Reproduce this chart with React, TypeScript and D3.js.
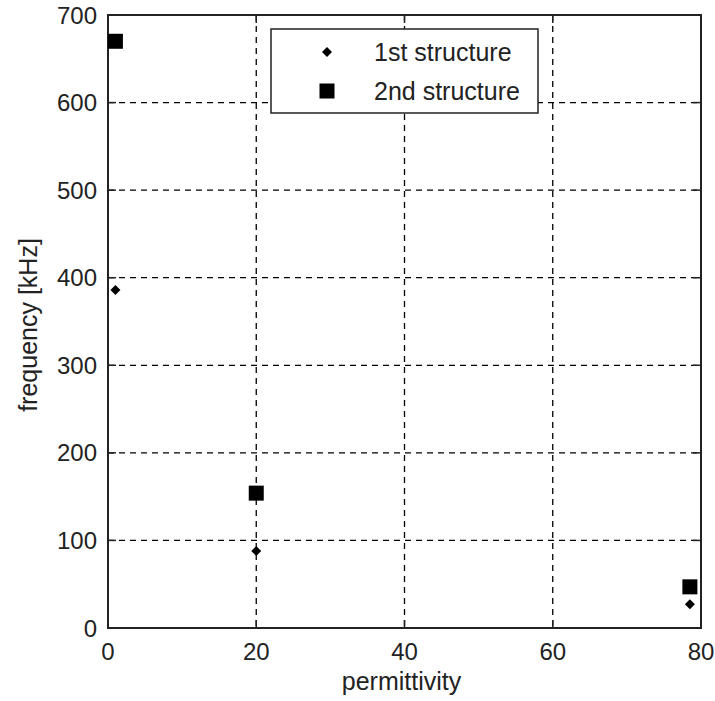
import React from "react";
import * as d3 from "d3";

const permittivity1 = [1, 20, 78.5];
const freq1 = [386, 88, 27];
const permittivity2 = [1, 20, 78.5];
const freq2 = [670, 154, 47];
const xTicks = [0, 20, 40, 60, 80];
const yTicks = [0, 100, 200, 300, 400, 500, 600, 700];
const seriesNames = ["1st structure", "2nd structure"];

const W = 715, H = 701;
const L = 108, R = 701, T = 15, B = 628;
const FONT = "'Liberation Sans', Arial, sans-serif";

export default function App() {
  const x = d3.scaleLinear().domain([0, 80]).range([L, R]);
  const y = d3.scaleLinear().domain([0, 700]).range([B, T]);
  const diamond = "M0,-5L5,0L0,5L-5,0Z";
  const sq = 15;
  const tickLen = 8;
  return (
    <svg width={W} height={H} style={{ position: "absolute", left: 0, top: 0, background: "#fff" }}>
      <rect x={0} y={0} width={W} height={H} fill="#fff" />
      {/* grid */}
      {xTicks.slice(1, -1).map((t) => (
        <line key={"gx" + t} x1={x(t)} x2={x(t)} y1={T} y2={B} stroke="#000" strokeWidth={1.3} strokeDasharray="6,5" />
      ))}
      {yTicks.slice(1, -1).map((t) => (
        <line key={"gy" + t} x1={L} x2={R} y1={y(t)} y2={y(t)} stroke="#000" strokeWidth={1.3} strokeDasharray="6,5" />
      ))}
      {/* ticks */}
      {xTicks.map((t) => (
        <g key={"tx" + t}>
          <line x1={x(t)} x2={x(t)} y1={B} y2={B - tickLen} stroke="#222" strokeWidth={1.5} />
          <line x1={x(t)} x2={x(t)} y1={T} y2={T + tickLen} stroke="#222" strokeWidth={1.5} />
          <text x={x(t)} y={660} textAnchor="middle" fontFamily={FONT} fontSize={24} fill="#222">{t}</text>
        </g>
      ))}
      {yTicks.map((t) => (
        <g key={"ty" + t}>
          <line x1={L} x2={L + tickLen} y1={y(t)} y2={y(t)} stroke="#222" strokeWidth={1.5} />
          <line x1={R} x2={R - tickLen} y1={y(t)} y2={y(t)} stroke="#222" strokeWidth={1.5} />
          <text x={97} y={y(t)} dy="0.36em" textAnchor="end" fontFamily={FONT} fontSize={24} fill="#222">{t}</text>
        </g>
      ))}
      {/* frame */}
      <rect x={L} y={T} width={R - L} height={B - T} fill="none" stroke="#222" strokeWidth={2} />
      {/* data */}
      {permittivity1.map((p, i) => (
        <path key={"d1" + i} d={diamond} transform={`translate(${x(p)},${y(freq1[i])})`} fill="#000" />
      ))}
      {permittivity2.map((p, i) => (
        <rect key={"d2" + i} x={x(p) - sq / 2} y={y(freq2[i]) - sq / 2} width={sq} height={sq} fill="#000" />
      ))}
      {/* legend */}
      <rect x={271} y={29} width={267} height={84} fill="#fff" stroke="#222" strokeWidth={1.5} />
      <path d={diamond} transform="translate(327,52)" fill="#000" />
      <text x={374} y={52} dy="0.36em" fontFamily={FONT} fontSize={25} fill="#222">{seriesNames[0]}</text>
      <rect x={327 - sq / 2} y={91 - sq / 2} width={sq} height={sq} fill="#000" />
      <text x={374} y={91} dy="0.36em" fontFamily={FONT} fontSize={25} fill="#222">{seriesNames[1]}</text>
      {/* axis labels */}
      <text x={(L + R) / 2 - 3} y={690} textAnchor="middle" fontFamily={FONT} fontSize={25} fill="#222">permittivity</text>
      <text transform={`translate(37,325) rotate(-90)`} textAnchor="middle" fontFamily={FONT} fontSize={25} fill="#222">frequency [kHz]</text>
    </svg>
  );
}
